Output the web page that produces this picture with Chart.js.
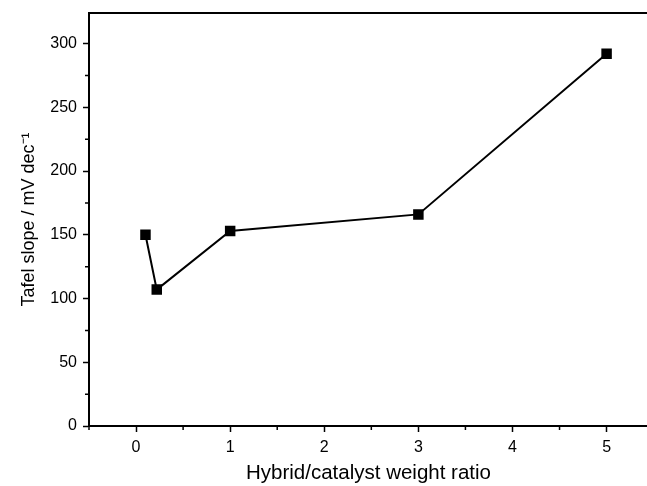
<!DOCTYPE html>
<html>
<head>
<meta charset="utf-8">
<script src="https://cdn.jsdelivr.net/npm/chart.js@4"></script>
<style>
  html, body { margin: 0; padding: 0; background: #fff; overflow: hidden; }
  #wrap { width: 647px; height: 486px; overflow: hidden; }
</style>
</head>
<body>
<div id="wrap"><canvas id="chart" width="656" height="486"></canvas></div>
<script>
// values
const ratios = [0.1, 0.22, 1, 3, 5];
const tafelSlopes = [150, 107, 153, 166, 292];

const xMajorTicks = [0, 1, 2, 3, 4, 5];
const xMinorTicks = [-0.5, 0.5, 1.5, 2.5, 3.5, 4.5];
const yMajorTicks = [0, 50, 100, 150, 200, 250, 300];
const yMinorTicks = [25, 75, 125, 175, 225, 275];

const fontFamily = "'Liberation Sans', Arial, sans-serif";

// frame top line + short minor ticks (Chart.js has no minor ticks)
const frameAndMinor = {
	id: 'frameAndMinor',
	afterDraw(chart)
	{
		const ctx = chart.ctx;
		const area = chart.chartArea;
		const xs = chart.scales.x;
		const ys = chart.scales.y;
		ctx.save();
		ctx.strokeStyle = '#000';
		ctx.lineWidth = 2;
		ctx.beginPath();
		ctx.moveTo(area.left - 1, area.top);
		ctx.lineTo(area.right + 10, area.top);
		ctx.stroke();

		ctx.lineWidth = 1.5;
		ctx.beginPath();
		xMinorTicks.forEach(v => {
			const px = xs.getPixelForValue(v);
			ctx.moveTo(px, area.bottom);
			ctx.lineTo(px, area.bottom + 4);
		});
		yMinorTicks.forEach(v => {
			const py = ys.getPixelForValue(v);
			ctx.moveTo(area.left, py);
			ctx.lineTo(area.left - 4, py);
		});
		ctx.stroke();
		ctx.restore();
	}
};

const chart = new Chart(document.getElementById('chart'),
{
	type: 'line',
	data:
	{
		datasets: [{
			data: ratios.map((r, i) => ({ x: r, y: tafelSlopes[i] })),
			borderColor: '#000',
			backgroundColor: '#000',
			borderWidth: 2,
			pointStyle: 'rect',
			pointRadius: 6,
			pointHoverRadius: 6,
			tension: 0
		}]
	},
	options:
	{
		responsive: false,
		animation: false,
		layout: { padding: { top: 13, right: 0, left: 0, bottom: 0 } },
		plugins:
		{
			legend: { display: false },
			tooltip: { enabled: false }
		},
		scales:
		{
			x: {
				type: 'linear',
				min: -0.5,
				max: 5.44,
				afterBuildTicks: s => { s.ticks = xMajorTicks.map(v => ({ value: v })); },
				afterFit: s => { s.height = 60; s.paddingLeft = 0; s.paddingRight = 0; },
				border: { display: true, color: '#000', width: 2 },
				grid: { drawOnChartArea: false, drawTicks: true, tickLength: 6, tickWidth: 1.5, tickColor: '#000' },
				ticks: {
					color: '#000',
					padding: 6,
					maxRotation: 0,
					font: { family: fontFamily, size: 16 }
				},
				title: {
					display: true,
					text: 'Hybrid/catalyst weight ratio',
					color: '#000',
					padding: { top: 6, bottom: 0 },
					font: { family: fontFamily, size: 20.5 }
				}
			},
			y: {
				type: 'linear',
				min: 0,
				max: 324,
				afterBuildTicks: s => { s.ticks = yMajorTicks.map(v => ({ value: v })); },
				afterFit: s => { s.width = 89; s.paddingTop = 0; s.paddingBottom = 0; },
				border: { display: true, color: '#000', width: 2 },
				grid: { drawOnChartArea: false, drawTicks: true, tickLength: 6, tickWidth: 1.5, tickColor: '#000' },
				ticks: {
					color: '#000',
					padding: 6,
					font: { family: fontFamily, size: 16 }
				},
				title: {
					display: true,
					text: 'Tafel slope / mV dec\u207B\u00B9',
					color: '#000',
					padding: { top: 18, bottom: 0 },
					font: { family: fontFamily, size: 18 }
				}
			}
		}
	},
	plugins: [frameAndMinor]
});
</script>
</body>
</html>
